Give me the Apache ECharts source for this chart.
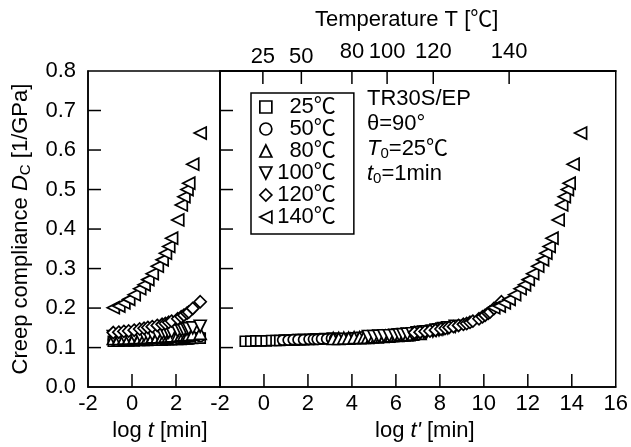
<!DOCTYPE html>
<html>
<head>
<meta charset="utf-8">
<script src="https://cdn.jsdelivr.net/npm/echarts@6/dist/echarts.min.js"></script>
<style>
  html, body { margin: 0; padding: 0; background: #fff; }
  #chart { width: 631px; height: 447px; }
</style>
</head>
<body>
<div id="chart"></div>
<script>
// log t [min] of the creep readings (same for every temperature)
var logT = [-0.85, -0.6, -0.37, -0.15, 0.1, 0.35, 0.55, 0.72, 0.92, 1.15, 1.37, 1.52, 1.67, 1.8, 2.08, 2.24, 2.36, 2.5, 2.58, 2.76, 3.1];
var temps = ['25℃', '50℃', '80℃', '100℃', '120℃', '140℃'];
// creep compliance Dc [1/GPa]
var d25 = [0.116, 0.116, 0.117, 0.117, 0.117, 0.118, 0.118, 0.118, 0.119, 0.119, 0.119, 0.120, 0.120, 0.120, 0.121, 0.121, 0.122, 0.122, 0.122, 0.123, 0.124];
var d50 = [0.119, 0.119, 0.120, 0.120, 0.120, 0.121, 0.121, 0.121, 0.122, 0.122, 0.123, 0.123, 0.123, 0.124, 0.124, 0.125, 0.125, 0.126, 0.126, 0.127, 0.128];
var d80 = [0.123, 0.123, 0.124, 0.124, 0.125, 0.125, 0.126, 0.126, 0.127, 0.127, 0.128, 0.129, 0.129, 0.130, 0.131, 0.132, 0.132, 0.133, 0.133, 0.134, 0.136];
var d100 = [0.128, 0.128, 0.129, 0.130, 0.130, 0.131, 0.132, 0.133, 0.134, 0.135, 0.137, 0.138, 0.139, 0.140, 0.142, 0.144, 0.145, 0.147, 0.148, 0.150, 0.154];
var d120 = [0.138, 0.139, 0.141, 0.142, 0.144, 0.147, 0.149, 0.151, 0.153, 0.156, 0.159, 0.161, 0.164, 0.167, 0.173, 0.178, 0.182, 0.187, 0.190, 0.199, 0.216];
var d140 = [0.201, 0.205, 0.213, 0.222, 0.234, 0.249, 0.259, 0.272, 0.287, 0.306, 0.322, 0.339, 0.356, 0.377, 0.423, 0.461, 0.482, 0.500, 0.516, 0.564, 0.643];
// shift factor log aT for each temperature (master curve)
var logAT = [0, 1.7, 4.0, 5.6, 7.7, 11.3];
// top temperature axis
var tempTickPos = [-0.05, 1.7, 4.0, 5.6, 7.7, 11.15];
var tempTickLabels = ['25', '50', '80', '100', '120', '140'];
// inner tick marks
var yTickVals = [0.1, 0.2, 0.3, 0.4, 0.5, 0.6, 0.7];
var leftXTickVals = [0, 2];
var rightXTickVals = [0, 2, 4, 6, 8, 10, 12, 14];

var allD = [d25, d50, d80, d100, d120, d140];
var symbols = ['rect', 'circle', 'triangle', 'triangle', 'diamond', 'triangle'];
var rotates = [0, 0, 0, 180, 0, 90];
var sizes = [10, 10, 12, 12, 12, 12];
// legend icons (legend ignores symbolRotate)
var legendIcons = ['rect', 'circle', 'triangle', 'path://M0,0L10,0L5,10Z', 'diamond', 'path://M0,5L10,0L10,10Z'];

var FONT = '"Liberation Sans", Arial, "Noto Sans CJK JP", sans-serif';
var FS = 22;
var TICK = 13;

var chart = echarts.init(document.getElementById('chart'));

var series = [];
for (var g = 0; g < 2; g++) {
  for (var i = 0; i < temps.length; i++) {
    var pts = [];
    for (var k = 0; k < logT.length; k++) {
      pts.push([g === 0 ? logT[k] : logT[k] + logAT[i], allD[i][k]]);
    }
    series.push({
      name: temps[i],
      type: 'scatter',
      xAxisIndex: g,
      yAxisIndex: g,
      symbol: symbols[i],
      symbolRotate: rotates[i],
      symbolSize: sizes[i],
      itemStyle: { color: '#fff', borderColor: '#000', borderWidth: 1.7, opacity: 1 },
      emphasis: { disabled: true },
      data: pts
    });
  }
}

// axis ticks at the grid edges don't show up in this setup, so the inner
// tick marks are drawn as short lines through the axes' own coord()
function tickSeries(gi, pts, dx, dy) {
  return {
    type: 'custom', xAxisIndex: gi, yAxisIndex: gi, silent: true, z: 5,
    data: pts,
    renderItem: function (params, api) {
      var p = api.coord([api.value(0), api.value(1)]);
      return {
        type: 'line',
        shape: { x1: p[0], y1: p[1], x2: p[0] + dx * TICK, y2: p[1] + dy * TICK },
        style: { stroke: '#000', lineWidth: 1.5 }
      };
    }
  };
}
for (var gg = 0; gg < 2; gg++) {
  series.push(tickSeries(gg, yTickVals.map(function (v) { return [-2, v]; }), 1, 0));
}
series.push(tickSeries(0, leftXTickVals.map(function (v) { return [v, 0]; }), 0, -1));
series.push(tickSeries(1, rightXTickVals.map(function (v) { return [v, 0]; }), 0, -1));
series.push(tickSeries(1, tempTickPos.map(function (v) { return [v, 0.8]; }), 0, 1));

function txt(extra) {
  return Object.assign({ color: '#000', fontSize: FS, fontFamily: FONT }, extra || {});
}
function line() {
  return { show: true, onZero: false, lineStyle: { color: '#000', width: 1.5 } };
}
function tempLabel(v) { return tempTickLabels[tempTickPos.indexOf(v)]; }

var legendData = temps.map(function (t, i) {
  return { name: t, icon: legendIcons[i] };
});

var option = {
  animation: false,
  textStyle: { fontFamily: FONT },
  grid: [
    { left: 88, top: 71, width: 132, height: 317, show: true, borderColor: '#000', borderWidth: 1.5 },
    { left: 220, top: 71, width: 401, height: 317, show: true, borderColor: '#000', borderWidth: 1.5 }
  ],
  xAxis: [
    {
      gridIndex: 0, type: 'value', position: 'bottom', min: -2, max: 4, interval: 2,
      axisLine: line(), axisTick: { show: false }, splitLine: { show: false },
      axisLabel: txt({ margin: 6, showMaxLabel: false }),
      name: '{n|log }{i|t}{n| [min]}', nameLocation: 'middle', nameGap: 31,
      nameTextStyle: { padding: [0, 0, 0, 12], rich: { n: txt(), i: txt({ fontStyle: 'italic' }) } }
    },
    {
      gridIndex: 1, type: 'value', position: 'bottom', min: -2, max: 16, interval: 2,
      axisLine: line(), axisTick: { show: false }, splitLine: { show: false },
      axisLabel: txt({ margin: 6 }),
      name: "{n|log }{i|t'}{n| [min]}", nameLocation: 'middle', nameGap: 31,
      nameTextStyle: { padding: [0, 0, 0, 14], rich: { n: txt(), i: txt({ fontStyle: 'italic' }) } }
    },
    {
      gridIndex: 1, type: 'value', position: 'top', min: -2, max: 16,
      axisLine: line(), splitLine: { show: false }, axisTick: { show: false },
      axisLabel: txt({ margin: 3, customValues: tempTickPos.slice(0, 2), formatter: tempLabel })
    },
    {
      gridIndex: 1, type: 'value', position: 'top', min: -2, max: 16,
      axisLine: line(), splitLine: { show: false }, axisTick: { show: false },
      axisLabel: txt({ margin: 8, customValues: tempTickPos.slice(2), formatter: tempLabel })
    }
  ],
  yAxis: [
    {
      gridIndex: 0, type: 'value', min: 0, max: 0.8, interval: 0.1,
      axisLine: line(), axisTick: { show: false }, splitLine: { show: false },
      axisLabel: txt({ margin: 12, formatter: function (v) { return v.toFixed(1); } }),
      name: '{n|Creep compliance }{i|D}{s|C}{n| [1/GPa]}', nameLocation: 'middle', nameGap: 55,
      nameTextStyle: {
        rich: {
          n: txt(),
          i: txt({ fontStyle: 'italic' }),
          s: txt({ fontSize: 15, padding: [10, 0, 0, 0] })
        }
      }
    },
    {
      gridIndex: 1, type: 'value', min: 0, max: 0.8, interval: 0.1,
      axisLine: line(), axisTick: { show: false }, splitLine: { show: false },
      axisLabel: { show: false }
    }
  ],
  legend: {
    orient: 'vertical', left: 251, top: 93,
    padding: [3, 18, 6, 8],
    borderColor: '#000', borderWidth: 1.5,
    itemWidth: 12, itemHeight: 12, itemGap: 0,
    selectedMode: false,
    itemStyle: { color: '#fff', borderColor: '#000', borderWidth: 1.7 },
    formatter: function (n) { return '{t|' + n + '}'; },
    textStyle: { rich: { t: txt({ width: 59, align: 'right', lineHeight: 21.8 }) } },
    data: legendData
  },
  graphic: [
    {
      type: 'text', left: 315, top: 9,
      style: { text: 'Temperature T [℃]', fill: '#000', font: FS + 'px ' + FONT }
    },
    {
      type: 'text', left: 367, top: 88,
      style: {
        text: '{n|TR30S/EP}\n{n|θ=90°}\n{i|T}{s|0}{n|=25℃}\n{i|t}{s|0}{n|=1min}',
        fill: '#000',
        rich: {
          n: { fontSize: FS, fontFamily: FONT, lineHeight: 25 },
          i: { fontSize: FS, fontFamily: FONT, fontStyle: 'italic', lineHeight: 25 },
          s: { fontSize: 15, fontFamily: FONT, padding: [10, 0, 0, 0], lineHeight: 25 }
        }
      }
    }
  ],
  series: series
};
chart.setOption(option);
</script>
</body>
</html>
